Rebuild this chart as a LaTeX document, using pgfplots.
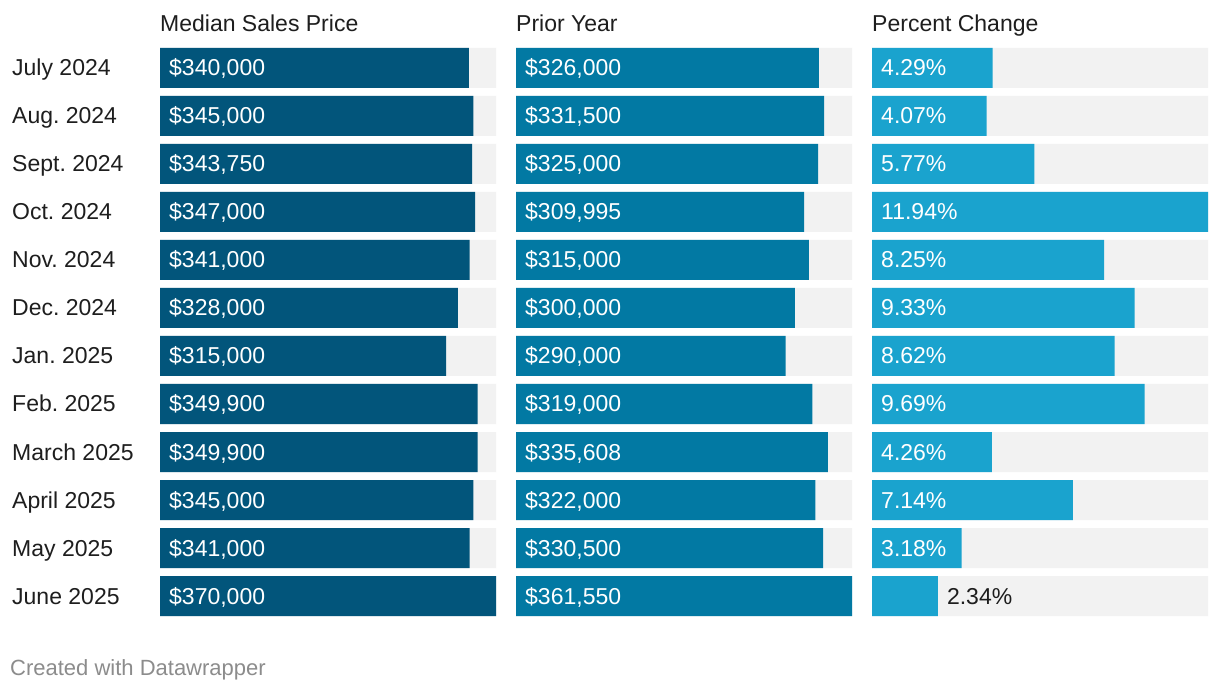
\documentclass[border=0pt]{standalone}
\usepackage{fontspec}
\setmainfont{Liberation Sans}
\usepackage{pgfplots}
\usepackage{pgfplotstable}
\pgfplotsset{compat=1.18}
\frenchspacing
\definecolor{cA}{HTML}{02557B}
\definecolor{cB}{HTML}{0279A3}
\definecolor{cC}{HTML}{1AA3CE}
\definecolor{bg}{HTML}{F2F2F2}
\definecolor{txt}{HTML}{1E1E1E}
\definecolor{foot}{HTML}{8C8C8C}
\newcommand{\bigf}{\fontsize{23}{27}\selectfont}

\pgfplotstableread{
idx price prior pct
0 340000 326000 4.29
1 345000 331500 4.07
2 343750 325000 5.77
3 347000 309995 11.94
4 341000 315000 8.25
5 328000 300000 9.33
6 315000 290000 8.62
7 349900 319000 9.69
8 349900 335608 4.26
9 345000 322000 7.14
10 341000 330500 3.18
11 370000 361550 2.34
}\data

\pgfplotsset{
  panel/.style={scale only axis, width=336pt, height=576pt, anchor=south west,
    xmin=0, ymin=-0.5, ymax=11.5, y dir=reverse, enlargelimits=false,
    axis line style={draw=none}, tick style={draw=none}, xtick=\empty, ytick=\empty,
    clip=false,
    title style={at={(0,1)}, anchor=base west, yshift=6pt, inner sep=0pt, font=\bigf, text=txt}},
  bars/.style={xbar, bar width=40pt, bar shift=0pt, draw=none},
  lab/.style={draw=none, mark=none,
    nodes near coords style={anchor=base west, xshift=9pt, yshift=-8pt, inner sep=0pt, text=white, font=\bigf}},
  dollar/.style={nodes near coords={\$\pgfmathprintnumber[fixed,precision=0,1000 sep={,},assume math mode=true]{\pgfplotspointmeta}}},
  pctf/.style={nodes near coords={\pgfmathprintnumber[fixed,fixed zerofill,precision=2,assume math mode=true]{\pgfplotspointmeta}\%}}
}

\begin{document}
\begin{tikzpicture}
\path[use as bounding box, fill=white] (0,0) rectangle (1220pt,692pt);

\begin{axis}[panel, at={(160pt,72pt)}, xmax=370000, title={Median Sales Price},
  ytick={0,...,11},
  yticklabels={July 2024, Aug. 2024, Sept. 2024, Oct. 2024, Nov. 2024, Dec. 2024, Jan. 2025, Feb. 2025, March 2025, April 2025, May 2025, June 2025},
  yticklabel style={anchor=base west, xshift=-148pt, yshift=-8pt, inner sep=0pt, font=\bigf, text=txt}]
\addplot[bars, fill=bg] table[x expr=370000, y=idx] {\data};
\addplot[bars, fill=cA] table[x=price, y=idx] {\data};
\addplot[lab, dollar, point meta=\thisrow{price}] table[x expr=0, y=idx] {\data};
\end{axis}

\begin{axis}[panel, at={(516pt,72pt)}, xmax=361550, title={Prior Year}]
\addplot[bars, fill=bg] table[x expr=361550, y=idx] {\data};
\addplot[bars, fill=cB] table[x=prior, y=idx] {\data};
\addplot[lab, dollar, point meta=\thisrow{prior}] table[x expr=0, y=idx] {\data};
\end{axis}

\begin{axis}[panel, at={(872pt,72pt)}, xmax=11.94, title={Percent Change}]
\addplot[bars, fill=bg] table[x expr=11.94, y=idx] {\data};
\addplot[bars, fill=cC] table[x=pct, y=idx] {\data};
\addplot[lab, pctf, point meta=\thisrow{pct}, skip coords between index={11}{12}] table[x expr=0, y=idx] {\data};
\addplot[lab, pctf, point meta=\thisrow{pct}, skip coords between index={0}{11},
  nodes near coords style={text=txt}] table[x=pct, y=idx] {\data};
\end{axis}

\node[anchor=base west, inner sep=0pt, text=foot, font=\fontsize{22}{26}\selectfont] at (10pt,16pt) {Created with Datawrapper};
\end{tikzpicture}
\end{document}
